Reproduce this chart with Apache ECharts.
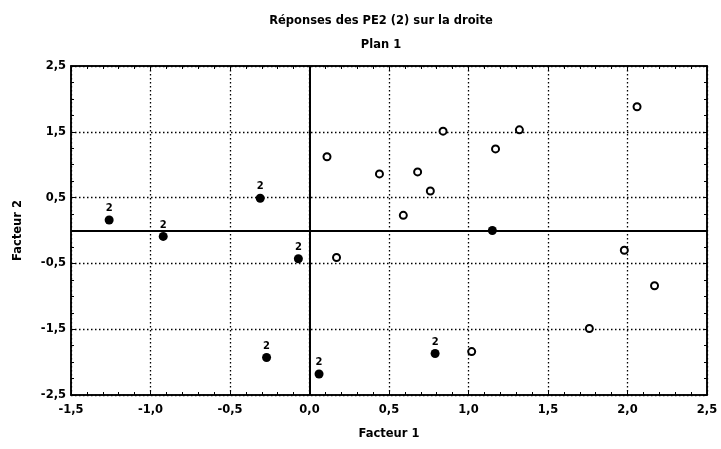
<!DOCTYPE html>
<html>
<head>
<meta charset="utf-8">
<script src="https://cdn.jsdelivr.net/npm/echarts@6/dist/echarts.min.js"></script>
<style>
html,body{margin:0;padding:0;background:#fff;}
#chart{width:721px;height:449px;}
</style>
</head>
<body>
<div id="chart"></div>
<script>
// ---- data ----
const titleText = 'Réponses des PE2 (2) sur la droite';
const subTitleText = 'Plan 1';
const xAxisName = 'Facteur 1';
const yAxisName = 'Facteur 2';
const pointLabel = '2';
// filled points labelled "2"
const filledLabeledX = [-1.26, -0.92, -0.31, -0.07, -0.27, 0.06, 0.79];
const filledLabeledY = [0.16, -0.09, 0.49, -0.43, -1.93, -2.18, -1.87];
// filled point without label
const filledPlainX = [1.15];
const filledPlainY = [0.00];
// hollow points
const hollowX = [0.11, 0.44, 0.68, 0.76, 0.59, 0.84, 1.17, 1.32, 0.17, 1.02, 2.06, 1.98, 2.17, 1.76];
const hollowY = [1.12, 0.86, 0.89, 0.60, 0.23, 1.51, 1.24, 1.53, -0.41, -1.84, 1.88, -0.30, -0.84, -1.49];
const xMin = -1.5, xMax = 2.5, xStep = 0.5;
const yMin = -2.5, yMax = 2.5, yStep = 1;

const pairs = (xs, ys) => xs.map((x, i) => [x, ys[i]]);
const FONT = 'DejaVu Sans';
const fmt = v => v.toFixed(1).replace('.', ',');

const baseX = {
  type: 'value', min: xMin, max: xMax, interval: xStep,
  axisLine: {show: true, onZero: false, lineStyle: {color: '#000', width: 1.5}},
  axisTick: {show: true, inside: true, length: 4, lineStyle: {color: '#000'}},
  minorTick: {show: true, splitNumber: 5, length: 3, lineStyle: {color: '#000'}}
};
const baseY = {
  type: 'value', min: yMin, max: yMax, interval: yStep,
  axisLine: {show: true, onZero: false, lineStyle: {color: '#000', width: 1.5}},
  axisTick: {show: true, inside: true, length: 4, lineStyle: {color: '#000'}},
  minorTick: {show: true, splitNumber: 4, length: 3, lineStyle: {color: '#000'}}
};
const gridLine = {show: true, lineStyle: {color: '#000', width: 1.3, type: [1.5, 2.5]}};

const chart = echarts.init(document.getElementById('chart'));
chart.setOption({
  animation: false,
  backgroundColor: '#fff',
  title: [
    {text: titleText, left: 376, top: 10, textAlign: 'center',
     textStyle: {fontFamily: FONT, fontSize: 11.5, fontWeight: 'bold', color: '#000'}},
    {text: subTitleText, left: 376, top: 34, textAlign: 'center',
     textStyle: {fontFamily: FONT, fontSize: 11.5, fontWeight: 'bold', color: '#000'}}
  ],
  grid: {left: 71, right: 14, top: 66, bottom: 54, show: true, borderColor: '#000', borderWidth: 1.5, backgroundColor: 'transparent'},
  xAxis: [
    Object.assign({}, baseX, {
      position: 'bottom',
      name: xAxisName, nameLocation: 'middle', nameGap: 33,
      nameTextStyle: {fontFamily: FONT, fontSize: 11.5, fontWeight: 'bold', color: '#000'},
      axisLabel: {formatter: fmt, margin: 9, fontFamily: FONT, fontSize: 11.5, fontWeight: 'bold', color: '#000'},
      splitLine: gridLine
    }),
    Object.assign({}, baseX, {
      position: 'top', axisLabel: {show: false}, splitLine: {show: false}
    })
  ],
  yAxis: [
    Object.assign({}, baseY, {
      position: 'left',
      name: yAxisName, nameLocation: 'middle', nameGap: 47, nameRotate: 90,
      nameTextStyle: {fontFamily: FONT, fontSize: 11.5, fontWeight: 'bold', color: '#000'},
      axisLabel: {formatter: fmt, margin: 5, fontFamily: FONT, fontSize: 11.5, fontWeight: 'bold', color: '#000'},
      splitLine: gridLine
    }),
    Object.assign({}, baseY, {
      position: 'right', axisLabel: {show: false}, splitLine: {show: false}
    })
  ],
  series: [
    {
      type: 'scatter', xAxisIndex: 0, yAxisIndex: 0,
      data: pairs(filledLabeledX, filledLabeledY),
      symbol: 'circle', symbolSize: 9,
      itemStyle: {color: '#000', opacity: 1},
      label: {show: true, position: 'top', distance: 2, formatter: pointLabel,
              fontFamily: FONT, fontSize: 10, fontWeight: 'bold', color: '#000', opacity: 1},
      markLine: {
        silent: true, symbol: 'none', label: {show: false},
        lineStyle: {color: '#000', width: 2, type: 'solid', opacity: 1},
        data: [{xAxis: 0}, {yAxis: 0}]
      },
      z: 5
    },
    {
      type: 'scatter', xAxisIndex: 0, yAxisIndex: 0,
      data: pairs(filledPlainX, filledPlainY),
      symbol: 'circle', symbolSize: 9,
      itemStyle: {color: '#000', opacity: 1},
      z: 5
    },
    {
      type: 'scatter', xAxisIndex: 0, yAxisIndex: 0,
      data: pairs(hollowX, hollowY),
      symbol: 'circle', symbolSize: 7,
      itemStyle: {color: '#fff', borderColor: '#000', borderWidth: 2, opacity: 1},
      z: 5
    }
  ]
});
</script>
</body>
</html>
